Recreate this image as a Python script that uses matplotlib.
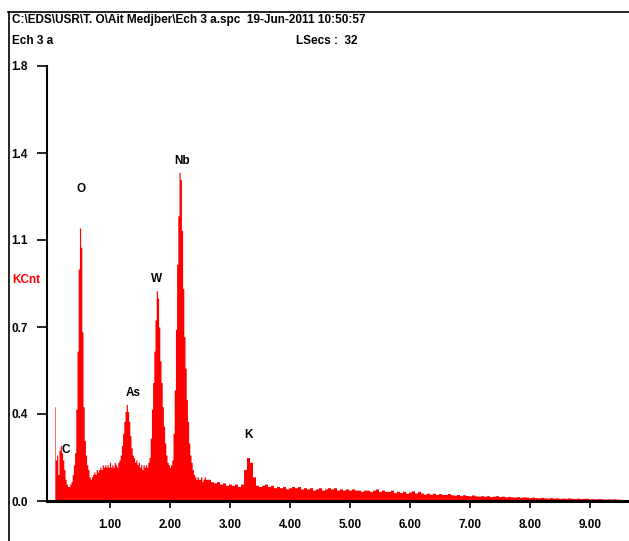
import matplotlib
matplotlib.use("Agg")
import matplotlib.pyplot as plt
import numpy as np
from matplotlib.lines import Line2D

# header / labels
header1 = "C:\\EDS\\USR\\T. O\\Ait Medjber\\Ech 3 a.spc  19-Jun-2011 10:50:57"
header2 = "Ech 3 a"
lsecs = "LSecs :  32"
ylabel = "KCnt"

# axis ticks
xticks = [1, 2, 3, 4, 5, 6, 7, 8, 9]
xticklabels = ["1.00", "2.00", "3.00", "4.00", "5.00", "6.00", "7.00", "8.00", "9.00"]
yticks = [0.0, 0.36, 0.72, 1.08, 1.44, 1.8]
yticklabels = ["0.0", "0.4", "0.7", "1.1", "1.4", "1.8"]

# element labels (name, keV, KCnt)
elements = ["C", "O", "As", "W", "Nb", "K"]
el_x = [0.27, 0.52, 1.38, 1.78, 2.20, 3.30]
el_y = [0.21, 1.29, 0.445, 0.92, 1.405, 0.275]

# spectrum, low energy part (0.08 keV start, 0.02 keV channels)
cnt_low = [0.39, 0.17, 0.19, 0.11, 0.21, 0.23, 0.20, 0.17, 0.13, 0.09,
           0.07, 0.06, 0.06, 0.07, 0.08, 0.11, 0.15, 0.20, 0.38, 0.62,
           0.96, 1.13, 1.05, 0.70, 0.39, 0.25, 0.19, 0.15, 0.13, 0.10,
           0.09, 0.10, 0.11, 0.12, 0.11, 0.13, 0.12, 0.13, 0.14, 0.13,
           0.15, 0.14, 0.15, 0.14, 0.15, 0.14, 0.16, 0.14, 0.15, 0.14,
           0.16, 0.15, 0.14, 0.16, 0.17, 0.19, 0.23, 0.28, 0.33, 0.37,
           0.40, 0.37, 0.33, 0.27, 0.22, 0.19, 0.18, 0.16, 0.17, 0.15,
           0.16, 0.14, 0.15, 0.13, 0.15, 0.14, 0.15, 0.14, 0.16, 0.18,
           0.26, 0.38, 0.49, 0.62, 0.75, 0.87, 0.84, 0.72, 0.58, 0.49,
           0.39, 0.31, 0.24, 0.19, 0.16, 0.15, 0.14, 0.15, 0.17, 0.28,
           0.46, 0.71, 0.98, 1.18, 1.36, 1.33, 1.12, 0.88, 0.68, 0.55,
           0.42, 0.33, 0.24, 0.19, 0.16, 0.13, 0.11, 0.10, 0.09, 0.10,
           0.09, 0.09, 0.10, 0.08, 0.09, 0.10, 0.09]

# spectrum, high energy part (2.65 keV start, 0.05 keV channels)
cnt_high = [0.09, 0.08, 0.075, 0.08, 0.07, 0.075, 0.065, 0.07, 0.065, 0.07,
            0.06, 0.07, 0.13, 0.18, 0.16, 0.10, 0.065, 0.06, 0.065, 0.07,
            0.06, 0.065, 0.055, 0.06, 0.055, 0.06, 0.05, 0.055, 0.06, 0.055,
            0.06, 0.05, 0.055, 0.05, 0.055, 0.045, 0.05, 0.055, 0.045, 0.05,
            0.055, 0.05, 0.055, 0.045, 0.05, 0.045, 0.05, 0.045, 0.05, 0.045,
            0.045, 0.04, 0.045, 0.045, 0.04, 0.045, 0.05, 0.04, 0.045, 0.04,
            0.04, 0.045, 0.035, 0.04, 0.035, 0.04, 0.032, 0.037, 0.042, 0.033,
            0.04, 0.033, 0.028, 0.032, 0.028, 0.032, 0.027, 0.031, 0.027, 0.027,
            0.031, 0.026, 0.024, 0.027, 0.022, 0.026, 0.023, 0.021, 0.025, 0.021,
            0.02, 0.022, 0.02, 0.022, 0.018, 0.02, 0.022, 0.018, 0.02, 0.017,
            0.019, 0.017, 0.016, 0.018, 0.015, 0.017, 0.016, 0.014, 0.016, 0.014,
            0.013, 0.015, 0.013, 0.012, 0.014, 0.012, 0.013, 0.011, 0.012, 0.011,
            0.013, 0.011, 0.01, 0.012, 0.01, 0.011, 0.011, 0.009, 0.01, 0.009,
            0.01, 0.009, 0.008, 0.009, 0.008, 0.009, 0.008, 0.007, 0.006]

e_low = 0.08 + 0.02 * np.arange(len(cnt_low))
e_high = 2.65 + 0.05 * np.arange(len(cnt_high))
energy = np.concatenate([e_low, e_high])
counts = np.concatenate([cnt_low, cnt_high])

plt.rcParams['font.family'] = ['Liberation Sans', 'DejaVu Sans']
plt.rcParams['font.weight'] = 'bold'
fs = 8.5

W, H = 629, 541
fig = plt.figure(figsize=(W / 100, H / 100), dpi=100)
fig.patch.set_facecolor('white')
ax = fig.add_axes([47 / W, (H - 501) / H, (628 - 47) / W, (501 - 66) / H])

ax.fill_between(energy, 0, counts, step='mid', color='#ff0000', linewidth=0)

ax.set_xlim(-0.05, 9.633)
ax.set_ylim(0, 1.8)
ax.set_xticks(xticks)
ax.set_xticklabels(xticklabels, fontsize=fs, fontweight='bold')
ax.set_yticks(yticks)
ax.set_yticklabels(yticklabels, fontsize=fs, fontweight='bold')
ax.tick_params(axis='x', direction='out', length=5, width=1.2, pad=8)
ax.tick_params(axis='y', direction='out', length=7, width=1.2, pad=7)
for s in ['top', 'right']:
    ax.spines[s].set_visible(False)
ax.spines['bottom'].set_linewidth(2.2)
ax.spines['left'].set_linewidth(1.5)

for name, x, y in zip(elements, el_x, el_y):
    ax.text(x, y, name, ha='center', va='center', fontsize=fs, fontweight='bold')

# frame lines round the plot window
fig.add_artist(Line2D([8 / W, 1], [1 - 12 / H, 1 - 12 / H], color='black', linewidth=1.2, transform=fig.transFigure))
fig.add_artist(Line2D([9 / W, 9 / W], [0, 1 - 12 / H], color='black', linewidth=1.2, transform=fig.transFigure))

fig.text(12 / W, 1 - 20 / H, header1, ha='left', va='center', fontsize=fs, fontweight='bold')
fig.text(12 / W, 1 - 41 / H, header2, ha='left', va='center', fontsize=fs, fontweight='bold')
fig.text(296 / W, 1 - 41 / H, lsecs, ha='left', va='center', fontsize=fs, fontweight='bold')
fig.text(12 / W, 1 - 280 / H, ylabel, ha='left', va='center', fontsize=fs, fontweight='bold', color='#ff0000')

fig.savefig('out.png', dpi=100, facecolor='white')
